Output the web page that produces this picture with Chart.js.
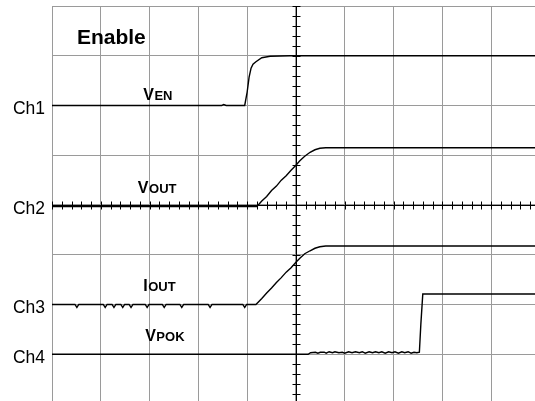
<!DOCTYPE html>
<html>
<head>
<meta charset="utf-8">
<script src="https://cdn.jsdelivr.net/npm/chart.js@4.4.1/dist/chart.umd.min.js"></script>
<style>
  html, body { margin: 0; padding: 0; background: #fff; }
  #c { display: block; }
</style>
</head>
<body>
<canvas id="c" width="535" height="401"></canvas>
<script>
// Units: x = horizontal divisions from left edge, y = vertical divisions from centre line
const channelLabels = ['Ch1', 'Ch2', 'Ch3', 'Ch4'];
const channelLevels = [2, 0, -2, -3];
const titleText = 'Enable';

const vEn = [
  [0, 2.0], [3.48, 2.0], [3.52, 2.02], [3.57, 2.0], [3.95, 2.0], [4.0, 2.27], [4.04, 2.57],
  [4.08, 2.75], [4.12, 2.83], [4.18, 2.88], [4.30, 2.96], [4.47, 2.99], [4.88, 3.0], [9.9, 3.0]
];
const vOut = [
  [0, -0.03], [4.20, -0.03], [4.30, 0.08], [4.40, 0.17], [4.50, 0.29], [4.60, 0.38], [4.70, 0.50],
  [4.80, 0.59], [4.90, 0.70], [5.0, 0.80], [5.08, 0.89], [5.18, 0.98], [5.29, 1.06], [5.39, 1.11],
  [5.49, 1.14], [5.61, 1.15], [9.9, 1.15]
];
const iOut = [
  [0, -2.0], [0.47, -2.0], [0.51, -2.06], [0.55, -2.0], [1.05, -2.0], [1.09, -2.06], [1.13, -2.0],
  [1.23, -2.0], [1.27, -2.06], [1.31, -2.0], [1.41, -2.0], [1.45, -2.06], [1.49, -2.0],
  [1.58, -2.0], [1.62, -2.06], [1.66, -2.0], [1.91, -2.0], [1.95, -2.06], [1.99, -2.0],
  [2.26, -2.0], [2.30, -2.06], [2.34, -2.0], [2.62, -2.0], [2.66, -2.06], [2.70, -2.0],
  [3.20, -2.0], [3.24, -2.06], [3.28, -2.0], [3.91, -2.0], [3.95, -2.06], [3.99, -2.0],
  [4.18, -2.0], [4.30, -1.88], [4.40, -1.77], [4.50, -1.67], [4.60, -1.56], [4.70, -1.46],
  [4.80, -1.35], [4.90, -1.26], [5.0, -1.15], [5.08, -1.07], [5.18, -0.98], [5.29, -0.92],
  [5.39, -0.87], [5.49, -0.84], [5.61, -0.825], [9.9, -0.825]
];
const vPok = [
  [0, -3.0], [5.25, -3.0], [5.30, -2.97], [5.40, -2.96], [5.45, -2.98], [5.50, -2.96], [5.58, -2.96],
  [5.62, -2.98], [5.68, -2.95], [5.75, -2.97], [5.80, -2.95], [5.88, -2.97], [5.95, -2.96],
  [6.00, -2.98], [6.08, -2.95], [6.15, -2.97], [6.22, -2.95], [6.30, -2.97], [6.36, -2.95],
  [6.42, -2.98], [6.50, -2.95], [6.57, -2.97], [6.63, -2.95], [6.70, -2.97], [6.76, -2.95],
  [6.83, -2.98], [6.90, -2.95], [6.97, -2.97], [7.03, -2.95], [7.10, -2.98], [7.17, -2.95],
  [7.23, -2.97], [7.30, -2.95], [7.36, -2.98], [7.42, -2.96], [7.48, -2.97], [7.53, -2.96],
  [7.56, -2.4], [7.60, -1.79], [9.9, -1.79]
];

// trace name labels: [main letter, small-caps part, x (div), y baseline (div)]
const traceLabels = [
  ['V', 'EN', 1.87, 2.12],
  ['V', 'OUT', 1.76, 0.25],
  ['I', 'OUT', 1.87, -1.72],
  ['V', 'POK', 1.91, -2.73]
];

const FONT = '"Liberation Sans", Arial, Helvetica, sans-serif';

const toPts = arr => arr.map(p => ({ x: p[0], y: p[1] }));

const scopePlugin = {
  id: 'scope',
  beforeDatasetsDraw(chart) {
    const { ctx, chartArea, scales: { x, y } } = chart;
    ctx.save();
    ctx.strokeStyle = '#000';
    ctx.lineWidth = 1;
    const cx = Math.round(x.getPixelForValue(5)) + 0.5;
    const cy = Math.round(y.getPixelForValue(0)) + 0.5;
    ctx.beginPath();
    ctx.moveTo(chartArea.left, cy); ctx.lineTo(chartArea.right, cy);
    ctx.moveTo(cx, chartArea.top); ctx.lineTo(cx, chartArea.bottom);
    for (let v = 0; v <= 9.9; v += 0.2) {
      const px = Math.round(x.getPixelForValue(v)) + 0.5;
      ctx.moveTo(px, cy - 4); ctx.lineTo(px, cy + 4);
    }
    for (let v = -4; v <= 4.001; v += 0.2) {
      const py = Math.round(y.getPixelForValue(v)) + 0.5;
      ctx.moveTo(cx - 4, py); ctx.lineTo(cx + 4, py);
    }
    ctx.stroke();
    ctx.restore();
  },
  afterDraw(chart) {
    const { ctx, scales: { x, y } } = chart;
    ctx.save();
    ctx.fillStyle = '#000';
    ctx.textBaseline = 'alphabetic';
    // channel labels
    ctx.font = '17.5px ' + FONT;
    ctx.textAlign = 'right';
    channelLabels.forEach((t, i) => {
      ctx.fillText(t, 45, y.getPixelForValue(channelLevels[i]) + 9);
    });
    // title
    ctx.textAlign = 'left';
    ctx.font = 'bold 21px ' + FONT;
    ctx.fillText(titleText, x.getPixelForValue(0.51), y.getPixelForValue(3.24));
    // trace labels
    traceLabels.forEach(([big, small, lx, ly]) => {
      const px = x.getPixelForValue(lx);
      const py = y.getPixelForValue(ly);
      ctx.font = 'bold 16px ' + FONT;
      ctx.fillText(big, px, py);
      const w = ctx.measureText(big).width;
      ctx.font = 'bold 13px ' + FONT;
      ctx.fillText(small, px + w + 0.5, py);
    });
    ctx.restore();
  }
};

const mkSet = (data) => ({
  data: toPts(data),
  borderColor: '#000',
  borderWidth: 1.4,
  pointRadius: 0,
  tension: 0,
  fill: false
});

new Chart(document.getElementById('c'), {
  type: 'line',
  data: { datasets: [mkSet(vEn), mkSet(vOut), mkSet(iOut), mkSet(vPok)] },
  options: {
    responsive: false,
    animation: false,
    events: [],
    layout: { padding: { left: 52, top: 6, right: 0, bottom: 0 } },
    plugins: { legend: { display: false }, tooltip: { enabled: false } },
    scales: {
      x: {
        type: 'linear', min: 0, max: 9.9,
        ticks: { display: false, stepSize: 1, includeBounds: false },
        grid: { color: '#9a9a9a', lineWidth: 1, drawTicks: false },
        border: { display: false }
      },
      y: {
        type: 'linear', min: -3.94, max: 4,
        ticks: { display: false, stepSize: 1, includeBounds: false },
        grid: { color: '#9a9a9a', lineWidth: 1, drawTicks: false },
        border: { display: false }
      }
    }
  },
  plugins: [scopePlugin]
});
</script>
</body>
</html>
